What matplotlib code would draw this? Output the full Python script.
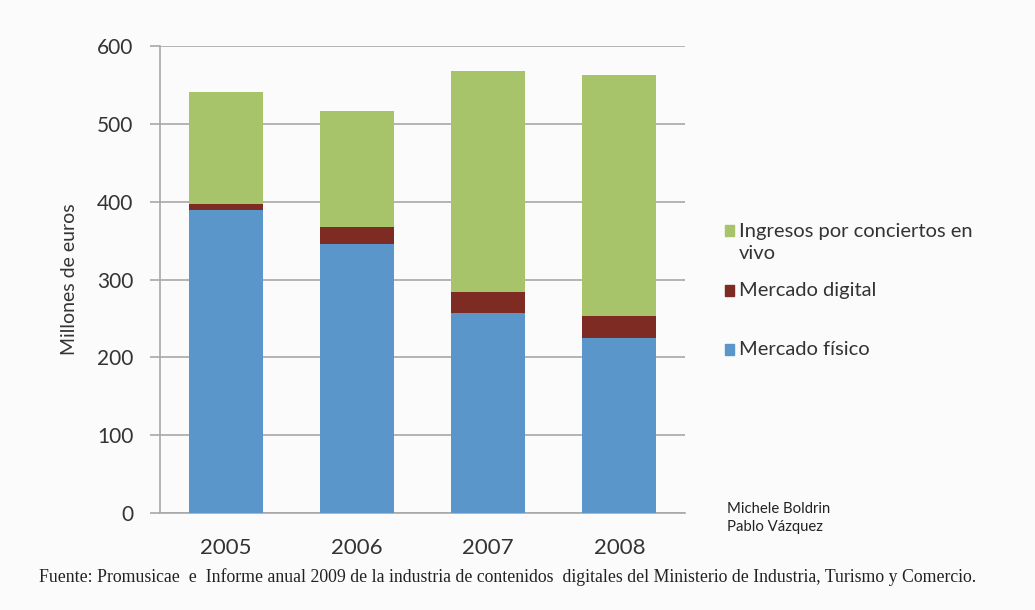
import numpy as np
import matplotlib.pyplot as plt
from matplotlib.patches import Rectangle

years = ['2005', '2006', '2007', '2008']
fisico = [389, 345, 257, 225]
digital = [8, 22, 27, 28]
conciertos = [144, 149, 284, 310]

c_fis = '#5b96cb'
c_dig = '#7e2b23'
c_con = '#a7c46b'
grey = '#a8a8a8'

plt.rcParams['font.family'] = ['Lato', 'DejaVu Sans']

fig = plt.figure(figsize=(10.35, 6.1), dpi=100, facecolor='#fbfbfb')
ax = fig.add_axes([0.1546, 0.159, 0.5072, 0.7656])
ax.set_facecolor('#fbfbfb')

x = np.arange(len(years))
w = 0.565
fis = np.array(fisico)
dig = np.array(digital)
con = np.array(conciertos)
ax.bar(x, fis, w, color=c_fis, zorder=3)
ax.bar(x, dig, w, bottom=fis, color=c_dig, zorder=3)
ax.bar(x, con, w, bottom=fis + dig, color=c_con, zorder=3)

ax.set_xlim(-0.5, 3.5)
ax.set_ylim(0, 600)
ax.set_yticks(range(0, 601, 100))
ax.set_xticks(x)
ax.set_xticklabels(years)
ax.yaxis.grid(True, color=grey, lw=1.2, zorder=0)
for s in ['top', 'right']:
    ax.spines[s].set_visible(False)
for s in ['left', 'bottom']:
    ax.spines[s].set_color(grey)
    ax.spines[s].set_linewidth(1.2)
ax.tick_params(axis='y', length=7, color=grey, width=1.2, labelsize=15, pad=12, labelcolor='#333333')
ax.tick_params(axis='x', length=0, labelsize=16, pad=18, labelcolor='#333333')
ax.set_ylabel('Millones de euros', fontsize=14, color='#333333', labelpad=14)

# legend, placed by hand to keep the uneven spacing
legend = [(c_con, 'Ingresos por conciertos en\nvivo', 0.622),
          (c_dig, 'Mercado digital', 0.524),
          (c_fis, 'Mercado físico', 0.427)]
for col, lab, yy in legend:
    fig.patches.append(Rectangle((0.7, yy - 0.009), 0.0095, 0.018, color=col,
                                 transform=fig.transFigure))
    va = 'top' if '\n' in lab else 'center'
    fig.text(0.714, yy + (0.013 if va == 'top' else 0), lab, fontsize=14.5,
             color='#333333', va=va, linespacing=1.35)

fig.text(0.702, 0.151, 'Michele Boldrin\nPablo Vázquez', fontsize=10.7,
         color='#222222', va='center', linespacing=1.3)
fig.text(0.038, 0.054,
         'Fuente: Promusicae  e  Informe anual 2009 de la industria de contenidos  '
         'digitales del Ministerio de Industria, Turismo y Comercio.',
         fontsize=12.8, family=['Liberation Serif', 'DejaVu Serif'],
         color='#222222', va='center')

fig.savefig('out.png', dpi=100, facecolor=fig.get_facecolor())
